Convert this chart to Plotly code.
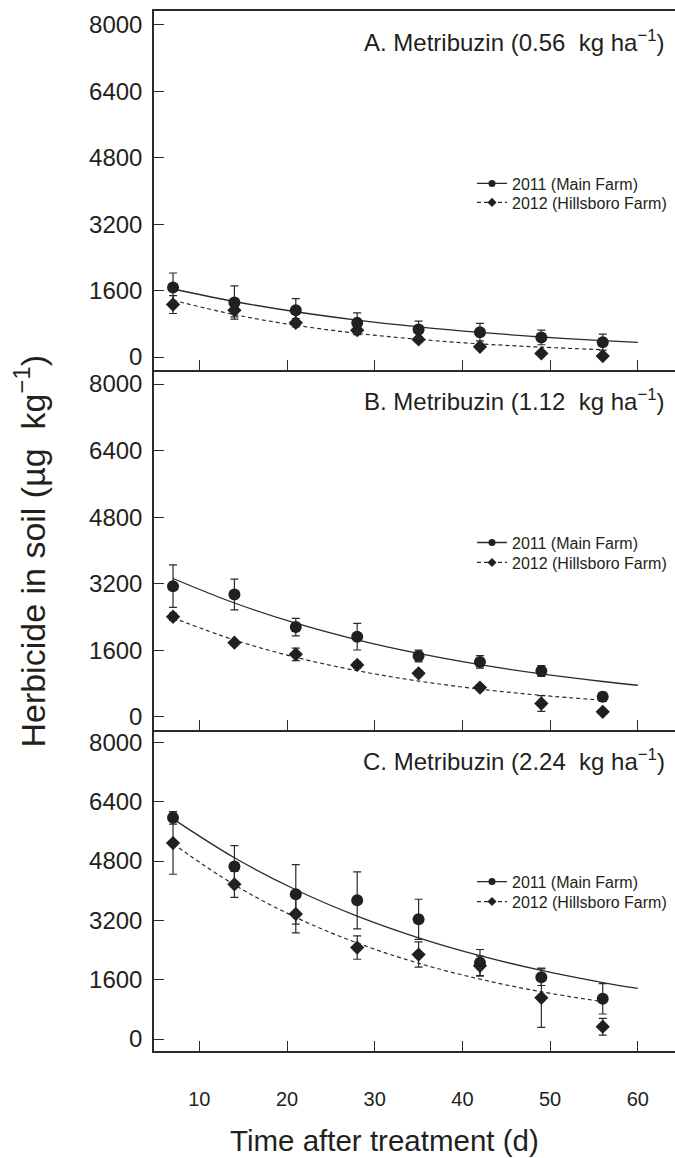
import plotly.graph_objects as go

# ---------------- data ----------------
days = [7, 14, 21, 28, 35, 42, 49, 56]
curve_days_2011 = [7, 14, 21, 28, 35, 42, 49, 56, 60]
curve_days_2012 = [7, 14, 21, 28, 35, 42, 49, 56]

panel_titles = [
    "A. Metribuzin (0.56\u00a0 kg ha<sup>\u22121</sup>)",
    "B. Metribuzin (1.12\u00a0 kg ha<sup>\u22121</sup>)",
    "C. Metribuzin (2.24\u00a0 kg ha<sup>\u22121</sup>)",
]
series_names = ["2011 (Main Farm)", "2012 (Hillsboro Farm)"]

# observed means and standard errors (µg kg-1)
a_2011 = [1675, 1314, 1129, 824, 665, 600, 473, 360]
a_2011_err = [350, 400, 280, 240, 200, 210, 176, 193]
a_2012 = [1266, 1129, 824, 649, 425, 247, 89, 24]
a_2012_err = [216, 160, 100, 110, 60, 50, 50, 40]

b_2011 = [3141, 2941, 2158, 1926, 1463, 1319, 1103, 480]
b_2011_err = [510, 370, 210, 320, 140, 150, 130, 110]
b_2012 = [2406, 1782, 1503, 1247, 1047, 703, 320, 120]
b_2012_err = [90, 40, 150, 80, 70, 70, 190, 60]

c_2011 = [5964, 4655, 3901, 3740, 3229, 2054, 1668, 1085]
c_2011_err = [170, 560, 800, 770, 540, 360, 225, 410]
c_2012 = [5283, 4171, 3372, 2466, 2278, 1973, 1112, 332]
c_2012_err = [840, 350, 510, 315, 340, 260, 800, 225]

# fitted decay curves
a_2011_fit = [1640, 1339, 1092, 891, 727, 593, 484, 395, 352]
a_2012_fit = [1369, 1023, 765, 572, 427, 319, 239, 178]
b_2011_fit = [3325, 2736, 2251, 1852, 1524, 1254, 1032, 849, 759]
b_2012_fit = [2382, 1846, 1431, 1109, 860, 666, 516, 400]
c_2011_fit = [5938, 4889, 4025, 3314, 2729, 2247, 1850, 1523, 1363]
c_2012_fit = [5265, 4156, 3281, 2590, 2044, 1614, 1274, 1006]

y_ticks = [0, 1600, 3200, 4800, 6400, 8000]
x_ticks = [10, 20, 30, 40, 50, 60]

# ---------------- figure ----------------
W, H = 675, 1158
INK = "#231f20"
LINE = "#2a2a2a"
FONT = "Liberation Sans, Arial, Helvetica, sans-serif"

panels = [
    dict(obs11=a_2011, err11=a_2011_err, obs12=a_2012, err12=a_2012_err,
         fit11=a_2011_fit, fit12=a_2012_fit, top=10, bottom=370, rng=[-312, 8336]),
    dict(obs11=b_2011, err11=b_2011_err, obs12=b_2012, err12=b_2012_err,
         fit11=b_2011_fit, fit12=b_2012_fit, top=370, bottom=731, rng=[-319, 8336]),
    dict(obs11=c_2011, err11=c_2011_err, obs12=c_2012, err12=c_2012_err,
         fit11=c_2011_fit, fit12=c_2012_fit, top=731, bottom=1052.3, rng=[-312, 8331]),
]
legend_rows = [(183, 202), (543, 563), (883, 903)]

fig = go.Figure()
layout = dict(
    width=W, height=H, margin=dict(l=0, r=0, t=0, b=0),
    paper_bgcolor="white", plot_bgcolor="white",
    font=dict(family=FONT, color=INK),
    showlegend=True,
)
annotations = []
x0_px = 154
x_domain = [x0_px / W, 1.0]
x_range = [4.83, 64.24]

for i, p in enumerate(panels):
    n = i + 1
    xa = "x" if n == 1 else f"x{n}"
    ya = "y" if n == 1 else f"y{n}"
    lg1 = "legend" if n == 1 else f"legend{2 * n - 1}"
    lg2 = f"legend{2 * n}"
    # fitted curves
    fig.add_trace(go.Scatter(x=curve_days_2012, y=p["fit12"], mode="lines",
                             line=dict(color=LINE, width=1.2, dash="4px,3px", shape="spline"),
                             xaxis=xa, yaxis=ya, showlegend=False, hoverinfo="skip"))
    fig.add_trace(go.Scatter(x=curve_days_2011, y=p["fit11"], mode="lines",
                             line=dict(color=LINE, width=1.3, shape="spline"),
                             xaxis=xa, yaxis=ya, showlegend=False, hoverinfo="skip"))
    # observations
    fig.add_trace(go.Scatter(x=days, y=p["obs12"], mode="markers",
                             marker=dict(symbol="diamond", size=11, color=INK),
                             error_y=dict(type="data", array=p["err12"], color=LINE,
                                          thickness=1.2, width=4),
                             xaxis=xa, yaxis=ya, showlegend=False))
    fig.add_trace(go.Scatter(x=days, y=p["obs11"], mode="markers",
                             marker=dict(symbol="circle", size=12, color=INK),
                             error_y=dict(type="data", array=p["err11"], color=LINE,
                                          thickness=1.2, width=4),
                             xaxis=xa, yaxis=ya, showlegend=False))
    # legend entries (one single-row legend per entry for exact spacing)
    fig.add_trace(go.Scatter(x=[None], y=[None], mode="lines+markers", name=series_names[0],
                             line=dict(color=LINE, width=1.3),
                             marker=dict(symbol="circle", size=7, color=INK),
                             xaxis=xa, yaxis=ya, legend=lg1))
    fig.add_trace(go.Scatter(x=[None], y=[None], mode="lines+markers", name=series_names[1],
                             line=dict(color=LINE, width=1.2, dash="4px,3px"),
                             marker=dict(symbol="diamond", size=7, color=INK),
                             xaxis=xa, yaxis=ya, legend=lg2))

    dom = [1 - p["bottom"] / H, 1 - p["top"] / H]
    last = (n == 3)
    layout["xaxis" if n == 1 else f"xaxis{n}"] = dict(
        domain=x_domain, range=x_range, anchor=ya,
        tickvals=x_ticks, ticks="inside", ticklen=10, tickwidth=1.2, tickcolor=LINE,
        showticklabels=last, tickfont=dict(size=20, color=INK, family=FONT),
        ticklabelstandoff=30,
        showline=True, linecolor=LINE, linewidth=1.5, mirror=(n == 1),
        showgrid=False, zeroline=False,
        **({} if n == 1 else dict(matches="x")),
    )
    layout["yaxis" if n == 1 else f"yaxis{n}"] = dict(
        domain=dom, range=p["rng"], anchor=xa,
        tickvals=y_ticks, ticks="inside", ticklen=10, tickwidth=1.2, tickcolor=LINE,
        tickfont=dict(size=24, color=INK, family=FONT), ticklabelstandoff=5,
        showline=True, linecolor=LINE, linewidth=1.5,
        showgrid=False, zeroline=False,
    )
    for lg, row_y in ((lg1, legend_rows[i][0]), (lg2, legend_rows[i][1])):
        layout[lg] = dict(
            x=472 / W, xanchor="left", y=1 - row_y / H, yanchor="middle",
            bgcolor="rgba(0,0,0,0)", borderwidth=0,
            font=dict(size=16, color=INK, family=FONT),
            tracegroupgap=0, itemsizing="trace",
        )
    annotations.append(dict(
        text=panel_titles[i], x=667 / W, y=1 - (p["top"] + 30) / H,
        xref="paper", yref="paper", xanchor="right", yanchor="middle",
        showarrow=False, font=dict(size=24, color=INK, family=FONT),
    ))

annotations.append(dict(
    text="Time after treatment (d)", x=384 / W, y=1 - 1142 / H,
    xref="paper", yref="paper", xanchor="center", yanchor="middle",
    showarrow=False, font=dict(size=29.5, color=INK, family=FONT),
))
annotations.append(dict(
    text="Herbicide in soil (µg\u00a0 kg<sup>\u22121</sup>)", x=30 / W, y=1 - 552 / H,
    xref="paper", yref="paper", xanchor="center", yanchor="middle", textangle=-90,
    showarrow=False, font=dict(size=34, color=INK, family=FONT),
))
layout["annotations"] = annotations
fig.update_layout(**layout)
fig.write_html(
    "out.html",
    config={"displayModeBar": False},
    post_script="document.body.style.margin='0';document.body.style.overflow='hidden';",
)
